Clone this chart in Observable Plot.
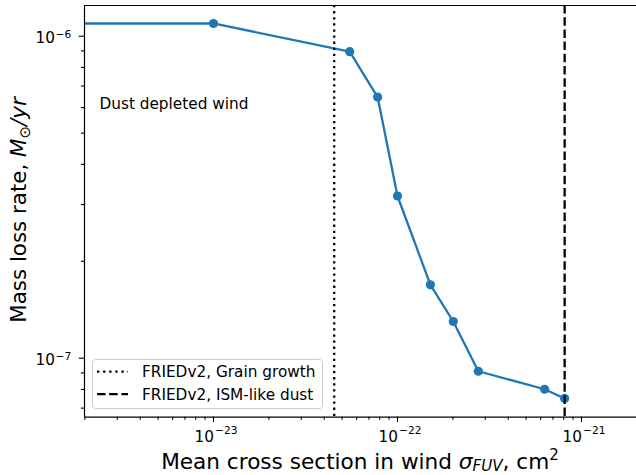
<!DOCTYPE html>
<html>
<head>
<meta charset="utf-8">
<script src="https://cdn.jsdelivr.net/npm/d3@7"></script>
<script src="https://cdn.jsdelivr.net/npm/@observablehq/plot@0.6"></script>
<style>
  html, body { margin: 0; padding: 0; background: white; }
  #chart { position: relative; width: 636px; height: 475px; }
</style>
</head>
<body>
<div id="chart"></div>
<script>
// Mean FUV cross section in the wind (cm^2) and the resulting mass loss rate (Msun/yr)
const sigmaFUV = [1e-24, 1.0e-23, 5.5e-23, 7.8e-23, 1.0e-22, 1.51e-22, 2.01e-22, 2.75e-22, 6.3e-22, 8.1e-22];
const massLoss = [1.095e-6, 1.095e-6, 8.95e-7, 6.47e-7, 3.19e-7, 1.69e-7, 1.30e-7, 9.11e-8, 8.01e-8, 7.5e-8];

// Reference cross sections from FRIEDv2
const refNames = ["FRIEDv2, Grain growth", "FRIEDv2, ISM-like dust"];
const refSigma = [4.53e-23, 8.1e-22];
const refDash = ["2.3,3.8", "8.5,3.7"];

// Axis ticks: mantissa "10" plus a raised exponent
const xMajor = [1e-23, 1e-22, 1e-21];
const xExponents = ["−23", "−22", "−21"];
const yMajor = [1e-7, 1e-6];
const yExponents = ["−7", "−6"];

const xDomain = [10 ** -23.701, 10 ** -20.701];
const yDomain = [10 ** -7.1832, 10 ** -5.9047];

// Minor log ticks at 2..9 of each decade inside the domain
function minorTicks([lo, hi]) {
  const out = [];
  for (let e = Math.floor(Math.log10(lo)); e <= Math.ceil(Math.log10(hi)); e++) {
    for (let m = 2; m <= 9; m++) {
      const v = m * 10 ** e;
      if (v >= lo * 1.0001 && v <= hi * 0.9999) out.push(v);
    }
  }
  return out;
}
const xMinor = minorTicks(xDomain);
const yMinor = minorTicks(yDomain);

const points = sigmaFUV.map((s, i) => ({sigma: s, mdot: massLoss[i]}));
const blue = "#1f77b4";
const tickFont = 15.3;
const expFont = 10.7;

const plot = Plot.plot({
  width: 636,
  height: 475,
  marginLeft: 84,
  marginRight: 0,
  marginTop: 5,
  marginBottom: 58.3,
  x: {type: "log", domain: xDomain},
  y: {type: "log", domain: yDomain},
  style: {fontFamily: "DejaVu Sans", fontSize: "15.3px", background: "white", color: "black", overflow: "visible"},
  marks: [
    // tick marks
    Plot.axisX(xMinor, {tickSize: 3.1, tickFormat: () => "", label: null, strokeWidth: 1.1}),
    Plot.axisX(xMajor, {tickSize: 5.3, tickFormat: () => "", label: null, strokeWidth: 1.1}),
    Plot.axisY(yMinor, {tickSize: 3.1, tickFormat: () => "", label: null, strokeWidth: 1.1}),
    Plot.axisY(yMajor, {tickSize: 5.3, tickFormat: () => "", label: null, strokeWidth: 1.1}),
    // tick labels
    Plot.text(xMajor, {x: d => d, frameAnchor: "bottom", text: () => "10", textAnchor: "end",
      lineAnchor: "bottom", dx: 0.5, dy: 24.3, fontSize: tickFont, fill: "black"}),
    Plot.text(xMajor, {x: d => d, frameAnchor: "bottom", text: (d, i) => xExponents[i], textAnchor: "start",
      lineAnchor: "bottom", dx: 1.5, dy: 17, fontSize: expFont, fill: "black"}),
    Plot.text(yMajor, {y: d => d, frameAnchor: "left", text: () => "10", textAnchor: "end",
      lineAnchor: "bottom", dx: -29.5, dy: 6.8, fontSize: tickFont, fill: "black"}),
    Plot.text(yMajor, {y: d => d, frameAnchor: "left", text: (d, i) => yExponents[i], textAnchor: "start",
      lineAnchor: "bottom", dx: -29, dy: 1.4, fontSize: expFont, fill: "black"}),
    // data
    Plot.line(points, {x: "sigma", y: "mdot", stroke: blue, strokeWidth: 2.3, clip: true}),
    Plot.dot(points, {x: "sigma", y: "mdot", r: 4.6, fill: blue, stroke: "none", clip: true}),
    ...refSigma.map((s, i) => Plot.ruleX([s], {stroke: "black", strokeWidth: 2.3, strokeDasharray: refDash[i]})),
    Plot.text(["Dust depleted wind"], {x: () => 2.4e-24, y: () => 5.93e-7, text: d => d,
      textAnchor: "start", lineAnchor: "bottom", fontSize: tickFont, fill: "black"}),
    // spines
    Plot.ruleX([xDomain[0]], {stroke: "black", strokeWidth: 1.2}),
    Plot.ruleY(yDomain, {stroke: "black", strokeWidth: 1.2})
  ]
});

document.getElementById("chart").appendChild(plot);

const svg = d3.select(plot);

// Axis titles with italic, subscript and superscript parts
const xl = svg.append("text")
  .attr("x", 360).attr("y", 468.5)
  .attr("text-anchor", "middle")
  .attr("font-family", "DejaVu Sans").attr("font-size", 21.6).attr("fill", "black");
xl.append("tspan").text("Mean cross section in wind ");
xl.append("tspan").attr("font-style", "italic").text("σ");
xl.append("tspan").attr("font-style", "italic").attr("font-size", 15.1).attr("dy", 2.5).text("FUV");
xl.append("tspan").attr("dy", -2.5).text(", cm");
xl.append("tspan").attr("font-size", 15.1).attr("dy", -8.5).text("2");

const yl = svg.append("text")
  .attr("transform", "translate(26,210) rotate(-90)")
  .attr("text-anchor", "middle")
  .attr("font-family", "DejaVu Sans").attr("font-size", 21.4).attr("fill", "black");
yl.append("tspan").text("Mass loss rate, ");
yl.append("tspan").attr("font-style", "italic").text("M");
yl.append("tspan").attr("font-size", 15).attr("dy", 3.5).text("⊙");
yl.append("tspan").attr("font-style", "italic").attr("dy", -3.5).text("/yr");

// Legend for the reference lines
const lg = svg.append("g").attr("font-family", "DejaVu Sans").attr("font-size", tickFont).attr("text-anchor", "start");
lg.append("rect")
  .attr("x", 92.5).attr("y", 359.5).attr("width", 230).attr("height", 49)
  .attr("rx", 3).attr("fill", "white").attr("fill-opacity", 0.8)
  .attr("stroke", "#cccccc").attr("stroke-width", 1);
refNames.forEach((name, i) => {
  const cy = 371.7 + i * 22.5;
  lg.append("line").attr("x1", 97).attr("x2", 128).attr("y1", cy).attr("y2", cy)
    .attr("stroke", "black").attr("stroke-width", 2.3).attr("stroke-dasharray", refDash[i]);
  lg.append("text").attr("x", 142).attr("y", cy).attr("dy", "0.35em").attr("fill", "black").text(name);
});
</script>
</body>
</html>
